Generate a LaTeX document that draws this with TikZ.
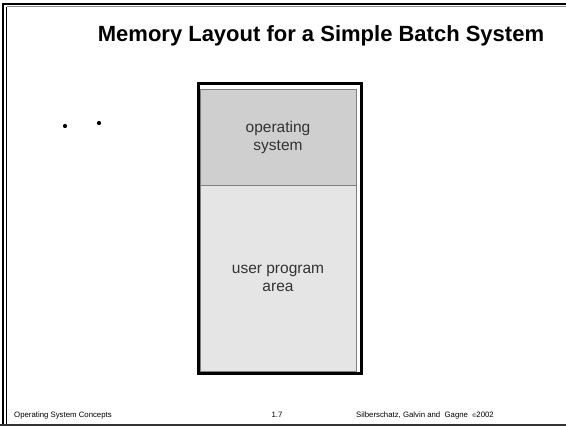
\documentclass[tikz,border=0pt]{standalone}
\usepackage{fontspec}
\setmainfont{Liberation Sans}
\begin{document}
\begin{tikzpicture}[x=1pt,y=-1pt,
  region/.style={draw=black!50, line width=0.9pt, inner sep=0pt, align=center,
    text=black!80, minimum width=156pt, font=\fontsize{15.5}{18}\selectfont},
  foot/.style={font=\fontsize{7.8}{9}\selectfont, inner sep=0pt},
  dot/.style={circle, fill=black, inner sep=0pt, minimum size=4.2pt}]
\useasboundingbox (0,0) rectangle (566,426);
\fill[white] (0,0) rectangle (566,426);
% slide frame
\draw[line width=2.2pt] (3.3,426) -- (3.3,4) -- (566,4);
\draw[line width=0.8pt, black!45] (7,6.8) -- (566,6.8);
\draw[line width=1.6pt] (6.6,426) -- (6.6,7);
\draw[line width=1.8pt, black!80] (0,424.8) -- (566,424.8);
% title
\node[font=\bfseries\fontsize{22}{26}\selectfont, inner sep=0pt] (title) at (321,36) {Memory Layout for a Simple Batch System};
% bullets
\node[dot] (d1) at (65,126) {};
\node[dot] (d2) at (99,123) {};
% memory regions
\node[region, fill=black!19, minimum height=96pt] (os) at (278,137) {operating\\system};
\node[region, fill=black!10, minimum height=186pt] (user) at (278,278) {user program\\area};
\draw[line width=3pt] (198,83.5) rectangle (361.5,373);
% footer
\node[foot, anchor=west] (f1) at (14,415) {Operating System Concepts};
\node[foot] (f2) at (277,415) {1.7};
\node[foot, anchor=west] (f3) at (356,415) {Silberschatz, Galvin and\ \ Gagne\ \ {\fontsize{5.5}{6}\selectfont\textcopyright}2002};
\end{tikzpicture}
\end{document}
